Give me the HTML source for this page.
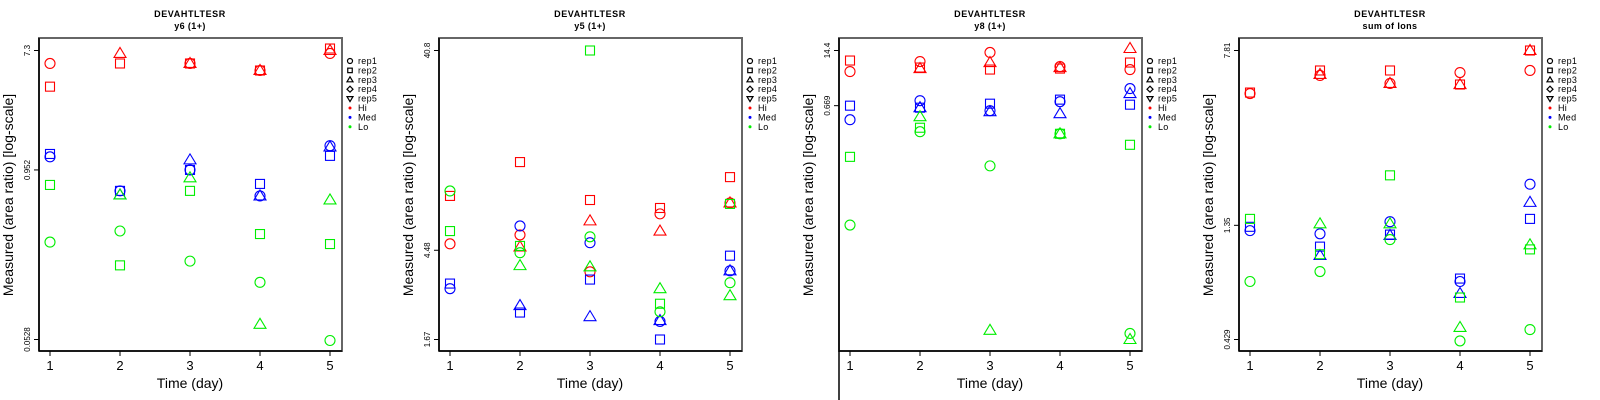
<!DOCTYPE html>
<html><head><meta charset="utf-8">
<style>
html,body{margin:0;padding:0;background:#fff;}
svg{display:block;font-family:"Liberation Sans",sans-serif;}
</style></head>
<body>
<svg id="chart" width="1600" height="400" viewBox="0 0 1600 400" xmlns="http://www.w3.org/2000/svg"></svg>
<script>
// ---- data ----
const days = [1, 2, 3, 4, 5];
const groups = ["Hi", "Med", "Lo"];
const reps = ["rep1", "rep2", "rep3"];
const panelTitles = ["y6 (1+)", "y5 (1+)", "y8 (1+)", "sum of Ions"];
const peptide = "DEVAHTLTESR";
const yTickLabels = [["7.3", "0.952", "0.0528"], ["40.8", "4.48", "1.67"], ["14.4", "0.669"], ["7.81", "1.35", "0.429"]];
const yTickValues = [[7.3, 0.952, 0.0528], [40.8, 4.48, 1.67], [14.4, 0.669], [7.81, 1.35, 0.429]];
const yDomains = [[0.0528, 7.3], [1.67, 40.8], [1.5e-6, 14.4], [0.429, 7.81]];

// panel 1 (y6)
const p1Hi = [[5.85, null, 5.85, 5.19, 6.94], [3.94, 5.85, 5.85, 5.19, 7.55], [null, 6.94, 5.85, 5.19, 7.3]];
const p1Med = [[1.19, 0.666, 0.952, 0.611, 1.44], [1.25, 0.666, 0.952, 0.750, 1.21], [null, 0.621, 1.13, 0.611, 1.41]];
const p1Lo = [[0.278, 0.336, 0.201, 0.140, 0.0519], [0.737, 0.187, 0.666, 0.319, 0.269], [null, 0.621, 0.832, 0.0684, 0.571]];
// panel 2 (y5)
const p2Hi = [[4.81, 5.31, 3.53, 6.70, 7.56], [8.17, 11.88, 7.81, 7.15, 10.06], [null, 4.65, 6.20, 5.54, 7.56]];
const p2Med = [[2.93, 5.86, 4.87, 2.04, 3.57], [3.10, 2.25, 3.24, 1.67, 4.22], [null, 2.43, 2.15, 2.06, 3.57]];
const p2Lo = [[8.63, 4.36, 5.20, 2.27, 3.13], [5.54, 4.70, 40.8, 2.48, 7.48], [null, 3.78, 3.73, 2.93, 2.71]];
// panel 3 (y8)
const p3Hi = [[4.46, 7.80, 12.9, 5.89, 4.99], [8.24, 5.58, 4.99, 5.27, 7.37], [null, 5.27, 7.37, 5.58, 16.1]];
const p3Med = [[0.306, 0.884, 0.507, 0.836, 1.73], [0.669, 0.598, 0.747, 0.936, 0.707], [null, 0.598, 0.479, 0.428, 1.31]];
const p3Lo = [[0.000874, 0.157, 0.0235, 0.140, 2.1e-6], [0.0388, 0.196, null, 0.140, 0.0759], [null, 0.362, 2.5e-6, 0.140, 1.5e-6]];
// panel 4 (sum of ions)
const p4Hi = [[5.07, 6.08, 5.61, 6.26, 6.39], [5.12, 6.39, 6.39, 5.55, 7.81], [null, 6.14, 5.61, 5.55, 7.81]];
const p4Med = [[1.28, 1.24, 1.40, 0.768, 2.04], [1.33, 1.09, 1.23, 0.791, 1.44], [null, 0.997, 1.22, 0.681, 1.70]];
const p4Lo = [[0.768, 0.849, 1.17, 0.423, 0.474], [1.44, 1.01, 2.23, 0.654, 1.06], [null, 1.37, 1.37, 0.484, 1.11]];

const panelData = [[p1Hi, p1Med, p1Lo], [p2Hi, p2Med, p2Lo], [p3Hi, p3Med, p3Lo], [p4Hi, p4Med, p4Lo]];
const legendLabels = ["rep1", "rep2", "rep3", "rep4", "rep5", "Hi", "Med", "Lo"];

// ---- drawing ----
const NS = "http://www.w3.org/2000/svg";
const svg = document.getElementById("chart");
const colors = {Hi: "#ff0000", Med: "#0000ff", Lo: "#00ee00"};
function mk(tag, attrs, parent) {
  const e = document.createElementNS(NS, tag);
  for (const k in attrs) e.setAttribute(k, attrs[k]);
  (parent || svg).appendChild(e);
  return e;
}
function marker(shape, cx, cy, color, g, sw) {
  const w = sw || 1.1;
  let e;
  if (shape === 0) e = mk("circle", {cx: cx, cy: cy, r: 5, fill: "none", stroke: color, "stroke-width": w}, g);
  else if (shape === 1) e = mk("rect", {x: cx - 4.5, y: cy - 4.5, width: 9, height: 9, fill: "none", stroke: color, "stroke-width": w}, g);
  else if (shape === 2) e = mk("polygon", {points: `${cx},${cy - 6} ${cx - 6},${cy + 4} ${cx + 6},${cy + 4}`, fill: "none", stroke: color, "stroke-width": w}, g);
  else if (shape === 3) e = mk("polygon", {points: `${cx},${cy - 6} ${cx + 6},${cy} ${cx},${cy + 6} ${cx - 6},${cy}`, fill: "none", stroke: color, "stroke-width": w}, g);
  else e = mk("polygon", {points: `${cx - 6},${cy - 4} ${cx + 6},${cy - 4} ${cx},${cy + 6}`, fill: "none", stroke: color, "stroke-width": w}, g);
  return e;
}

for (let p = 0; p < 4; p++) {
  const ox = p * 400;
  const L = 39 + ox, R = 342 + ox, T = 38, B = 351;
  const yTop = 50.5, yBot = 339.5;
  const [dmin, dmax] = yDomains[p];
  const yScale = v => yTop + (Math.log(dmax) - Math.log(v)) / (Math.log(dmax) - Math.log(dmin)) * (yBot - yTop);
  const xScale = d => 50 + ox + (d - 1) * 70;

  const g = mk("g", {});
  
  

  const t1 = mk("text", {x: 190 + ox, y: 17, "text-anchor": "middle", "font-size": 9, "font-weight": "bold", "letter-spacing": 0.6, fill: "#000"}, g);
  t1.textContent = peptide;
  
  
  const t2 = mk("text", {x: 190 + ox, y: 29, "text-anchor": "middle", "font-size": 9, "font-weight": "bold", "letter-spacing": 0.4, fill: "#000"}, g);
  t2.textContent = panelTitles[p];
  
  

  const box = mk("rect", {x: L, y: T, width: R - L, height: B - T, fill: "none", stroke: "#666", "stroke-width": 2}, g);
  
  
  const xAxis = mk("line", {x1: L, y1: B, x2: R, y2: B, stroke: "#000", "stroke-width": 1.5}, g);
  
  
  const yAxis = mk("line", {x1: L, y1: T, x2: L, y2: p === 2 ? 400 : B, stroke: "#000", "stroke-width": 1.5}, g);
  
  

  days.forEach(d => {
    const x = xScale(d);
    mk("line", {x1: x, y1: B, x2: x, y2: B + 5, stroke: "#000"}, g);
    const tl = mk("text", {x: x, y: 370, "text-anchor": "middle", "font-size": 13, fill: "#000"}, g);
    tl.textContent = d;
    
    
  });
  yTickValues[p].forEach((v, i) => {
    const y = yScale(v);
    mk("line", {x1: L - 5, y1: y, x2: L, y2: y, stroke: "#000"}, g);
    const tl = mk("text", {x: 0, y: 0, "text-anchor": "middle", "font-size": 8, fill: "#000", transform: `translate(${L - 9},${y}) rotate(-90)`}, g);
    tl.textContent = yTickLabels[p][i];
    
    
  });
  const xt = mk("text", {x: 190 + ox, y: 388, "text-anchor": "middle", "font-size": 14, fill: "#000"}, g);
  xt.textContent = "Time (day)";
  
  
  const yt = mk("text", {x: 0, y: 0, "text-anchor": "middle", "font-size": 14, fill: "#000", transform: `translate(${ox + 13},${195}) rotate(-90)`}, g);
  yt.textContent = "Measured (area ratio) [log-scale]";
  
  

  // points
  panelData[p].forEach((grp, gi) => {
    grp.forEach((series, ri) => {
      series.forEach((v, di) => {
        if (v == null) return;
        const m = marker(ri, xScale(days[di]), yScale(v), colors[groups[gi]], g);
        
        
      });
    });
  });

  // legend
  const lg = mk("g", {}, g);
  
  
  legendLabels.forEach((lab, i) => {
    const y = 61 + i * 9.4;
    const sx = 350 + ox;
    if (i < 5) marker(i, sx, y, "#000", lg, 2.4).setAttribute("transform", `translate(${sx},${y}) scale(0.5) translate(${-sx},${-y})`);
    else mk("circle", {cx: sx, cy: y, r: 1.5, fill: colors[lab]}, lg);
    const tx = mk("text", {x: 358 + ox, y: y + 3, "font-size": 9, "letter-spacing": 0.3, fill: "#000"}, lg);
    tx.textContent = lab;
    
    
  });
}
</script>
</body></html>
